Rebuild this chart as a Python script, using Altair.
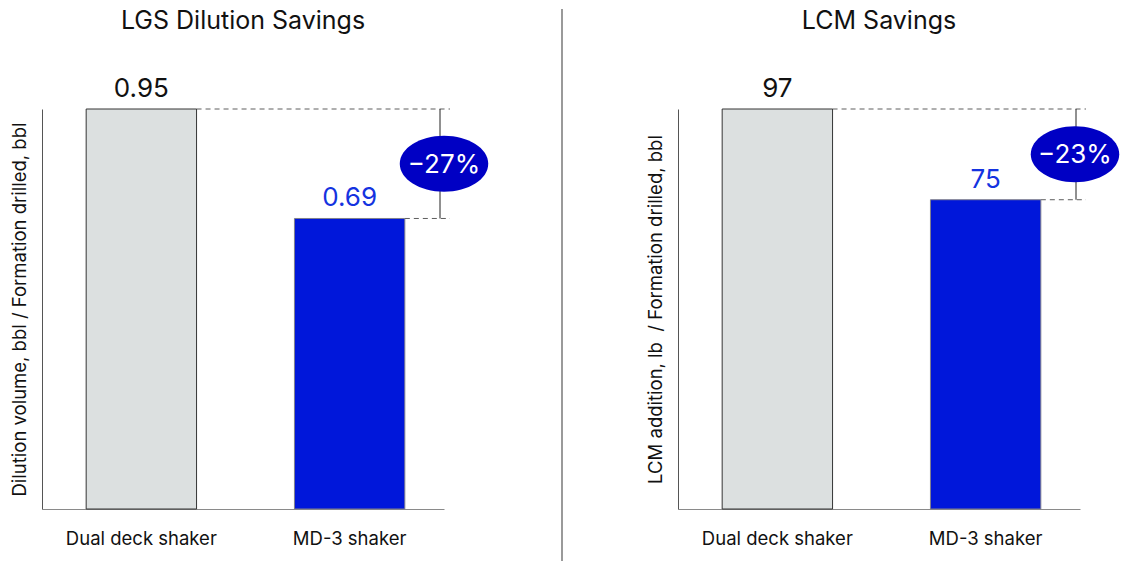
import altair as alt
import pandas as pd

# ---- data ----
categories = ["Dual deck shaker", "MD-3 shaker"]
lgs_values = [0.95, 0.69]
lgs_labels = ["0.95", "0.69"]
lcm_values = [97, 75]
lcm_labels = ["97", "75"]
pct_labels = ["\u221227%", "\u221223%"]
titles = ["LGS Dilution Savings", "LCM Savings"]
y_titles = ["Dilution volume, bbl / Formation drilled, bbl",
            "LCM addition, lb\u00a0 / Formation drilled, bbl"]

# ---- styles ----
FONT = "Inter"
W, H = 402, 400
bar_fill = ["#dce0e0", "#0017da"]
bar_stroke = ["#353535", "#80808c"]
text_color = ["#111111", "#1433e0"]
ellipse_color = "#0000c4"
ELLIPSE = "M-1.58,0 A1.58,1 0 1,0 1.58,0 A1.58,1 0 1,0 -1.58,0 Z"


def panel(values, labels, pct, title, ytitle, separator, ell_x):
    df = pd.DataFrame({"cat": categories, "value": values, "label": labels,
                       "fill": bar_fill, "stroke": bar_stroke, "tcolor": text_color})
    pair = pd.DataFrame({"y1": [values[0]], "y2": [values[1]], "pct": [pct], "title": [title]})
    ymax = max(values)

    xscale = alt.Scale(domain=categories, paddingInner=0.47, paddingOuter=0.2, align=0.53)
    x = alt.X("cat:N", sort=categories, scale=xscale,
              axis=alt.Axis(title=None, labelFontSize=18.5, labelFont=FONT, labelColor="#111111",
                            labelPadding=20, ticks=False, domainColor="#8a8a8a", labelAngle=0,
                            labelAlign="center", labelBaseline="top"))
    yscale = alt.Scale(domain=[0, ymax], nice=False, zero=True)
    y = alt.Y("value:Q", scale=yscale,
              axis=alt.Axis(title=ytitle, labels=False, ticks=False, grid=False,
                            domainColor="#555555", titleFont=FONT, titleFontSize=18.5,
                            titleFontWeight="normal", titleColor="#111111", titlePadding=13,
                            minExtent=0, maxExtent=0))

    base = alt.Chart(df)
    bars = base.mark_bar(strokeWidth=1).encode(
        x=x, y=y, fill=alt.Fill("fill:N", scale=None), stroke=alt.Stroke("stroke:N", scale=None))
    vals = base.mark_text(baseline="alphabetic", dy=-12, fontSize=26, font=FONT).encode(
        x=x, y=y, text="label:N", color=alt.Color("tcolor:N", scale=None))
    dashes = base.mark_rule(color="#5e5e5e", strokeDash=[5, 4], strokeWidth=1).encode(
        x=alt.X("cat:N", sort=categories, scale=xscale, bandPosition=1),
        x2=alt.value(W + 6), y=alt.Y("value:Q", scale=yscale))

    pbase = alt.Chart(pair)
    vline = pbase.mark_rule(color="#222222", strokeWidth=1).encode(
        x=alt.value(W - 4), y=alt.Y("y1:Q", scale=yscale), y2="y2:Q")
    ell = pbase.transform_calculate(mid="(datum.y1 + datum.y2) / 2").mark_point(
        shape=ELLIPSE, filled=True, size=3136, opacity=1, color=ellipse_color).encode(
        x=alt.value(ell_x), y=alt.Y("mid:Q", scale=yscale))
    etext = pbase.transform_calculate(mid="(datum.y1 + datum.y2) / 2").mark_text(
        color="white", fontSize=26, font=FONT, baseline="middle", dy=1).encode(
        x=alt.value(ell_x), y=alt.Y("mid:Q", scale=yscale), text="pct:N")
    ttl = pbase.mark_text(color="#111111", fontSize=25, font=FONT, baseline="top",
                          align="center").encode(
        x=alt.value(W / 2), y=alt.value(-100), text="title:N")

    layers = [dashes, bars, vals, vline, ell, etext, ttl]
    if separator:
        sep = alt.Chart(pd.DataFrame({"k": [0]})).mark_rule(color="#9a9a9a", strokeWidth=2).encode(
            x=alt.value(520), y=alt.value(-100), y2=alt.value(452))
        layers.append(sep)

    return alt.layer(*layers).properties(width=W, height=H)


left = panel(lgs_values, lgs_labels, pct_labels[0], titles[0], y_titles[0], True, W)
right = panel(lcm_values, lcm_labels, pct_labels[1], titles[1], y_titles[1], False, W - 5)

chart = alt.hconcat(left, right, spacing=83).properties(
    padding={"left": 2, "top": 0, "right": 0, "bottom": 0}
).configure_view(stroke=None).configure_axis(domainWidth=1)

chart.save("out.html", embed_options={"renderer": "svg", "actions": False})
